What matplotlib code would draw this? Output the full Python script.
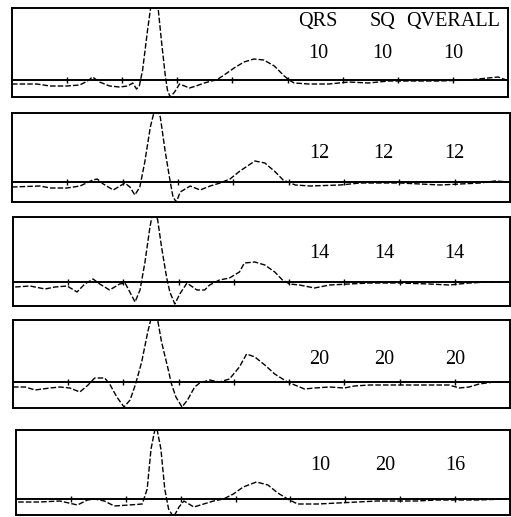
import matplotlib.pyplot as plt

# time in ms (one baseline tick = 100 ms), amplitude in arbitrary units above the baseline
t1 = [0, 45, 69, 99, 123, 137, 146, 159, 177, 195, 210, 219, 226, 231, 237, 246, 253, 264, 271, 278, 282, 287,
      295, 304, 313, 322, 334, 349, 362, 371, 385, 403, 421, 439, 457, 476, 494, 503, 512, 539, 575, 611, 647,
      683, 720, 774, 828, 864, 882, 897]
y1 = [-4, -4, -6, -6, -5, -1, 3, -2, -6, -7, -6, -3, -9, -6, 10, 50, 78, 78, 40, 5, -10, -17,
      -12, -4, -6, -8, -6, -3, -1, 0, 5, 12, 18, 21, 20, 14, 4, 0, -3, -4, -4, -2, -3,
      -1, -1, -1, 0, 2, 3, 0]

t2 = [0, 51, 69, 99, 123, 146, 154, 165, 183, 195, 204, 213, 222, 231, 240, 250, 259, 268, 277, 286, 291, 297,
      304, 322, 340, 358, 376, 394, 412, 439, 457, 476, 490, 512, 539, 593, 629, 701, 738, 774, 810, 846, 873, 900]
y2 = [-5, -4, -6, -6, -4, 2, 3, -2, -8, -4, -1, -5, -13, -5, 20, 55, 75, 65, 30, 0, -15, -20,
      -10, -4, -8, -4, -1, 3, 11, 21, 19, 10, 2, -3, -4, -3, -1, -1, -2, -3, -2, -1, 1, 0]

t3 = [4, 31, 58, 76, 98, 116, 130, 145, 157, 175, 193, 203, 221, 230, 239, 248, 255, 262, 269, 278, 284, 293,
      302, 315, 333, 347, 356, 374, 392, 410, 419, 438, 456, 474, 488, 501, 519, 546, 573, 609, 645, 700, 754,
      790, 826, 862, 899]
y3 = [-5, -4, -7, -5, -4, -10, -2, 3, -2, -8, -2, -1, -20, -8, 20, 55, 75, 62, 35, 5, -10, -22,
      -12, -1, -8, -8, -3, 2, 4, 10, 19, 20, 17, 10, 2, -2, -3, -6, -3, -2, -1, -1, -2,
      -3, -1, 0, 0]

t4 = [0, 22, 40, 67, 85, 103, 121, 136, 148, 166, 175, 188, 201, 212, 222, 233, 244, 253, 262, 269, 280, 287,
      295, 306, 316, 329, 338, 356, 374, 392, 410, 423, 438, 456, 474, 497, 519, 528, 546, 573, 600, 618, 645,
      700, 736, 790, 808, 826, 844, 871, 899]
y4 = [-5, -5, -8, -6, -5, -6, -10, -3, 4, 4, -2, -15, -25, -18, -2, 20, 50, 70, 62, 40, 15, -2,
      -15, -25, -18, -5, -1, 2, 0, 3, 15, 28, 25, 17, 8, 0, -5, -7, -6, -5, -6, -4, -3,
      -3, -3, -3, -6, -5, -2, 0, 0]

t5 = [4, 43, 80, 112, 130, 143, 161, 179, 206, 230, 239, 246, 255, 264, 271, 278, 287, 297, 306, 324, 342, 360,
      378, 396, 414, 438, 459, 477, 495, 513, 550, 586, 622, 658, 730, 767, 839, 893]
y5 = [-3, -3, -2, -6, -1, 0, -2, -7, -6, -5, 10, 50, 75, 50, 10, -10, -18, -8, -2, -8, -5, -2,
      0, 5, 12, 17, 14, 6, 0, -5, -5, -4, -3, -2, -2, -1, -1, 0]

times = [t1, t2, t3, t4, t5]
waves = [y1, y2, y3, y4, y5]

headers = ["QRS", "SQ", "QVERALL"]
qrs = [10, 12, 14, 20, 10]
sq = [10, 12, 14, 20, 20]
overall = [10, 12, 14, 20, 16]
ticks_ms = [100, 200, 300, 400, 500, 600, 700, 800]

# layout: panel boxes in pixels (left, top, right, bottom), y-limits, label heights
W, H = 511, 517
boxes = [(12, 8, 508, 97), (12, 113, 510, 202), (13, 217, 510, 306), (13, 320, 510, 408), (16, 430, 510, 515)]
ylims = [(-17, 72), (-20, 69), (-24, 65), (-26, 62), (-16, 69)]
num_y = [27, 29, 29, 22, 34]
col_x = [555, 672, 800]

fig = plt.figure(figsize=(W / 100, H / 100), dpi=100)
font = dict(family=["Liberation Serif", "DejaVu Serif"], fontsize=14.5, ha="center", va="center")

for i in range(5):
    l, t, r, b = boxes[i]
    ax = fig.add_axes([l / W, 1 - b / H, (r - l) / W, (b - t) / H])
    ax.set_xlim(0, 900)
    ax.set_ylim(*ylims[i])
    ax.axhline(0, color="black", lw=1.4)
    ax.plot(ticks_ms, [0] * len(ticks_ms), ls="none", marker="|", ms=5, mew=1, color="black")
    ax.plot(times[i], waves[i], color="black", lw=1.0, ls=(0, (4, 1.5)))
    for s in ax.spines.values():
        s.set_linewidth(1.4)
    ax.set_xticks([])
    ax.set_yticks([])
    for x, v in zip(col_x, [qrs[i], sq[i], overall[i]]):
        ax.text(x, num_y[i], str(v), **font)
    if i == 0:
        for x, h in zip(col_x, headers):
            ax.text(x, 58, h, **font)

fig.savefig("out.png", dpi=100)
